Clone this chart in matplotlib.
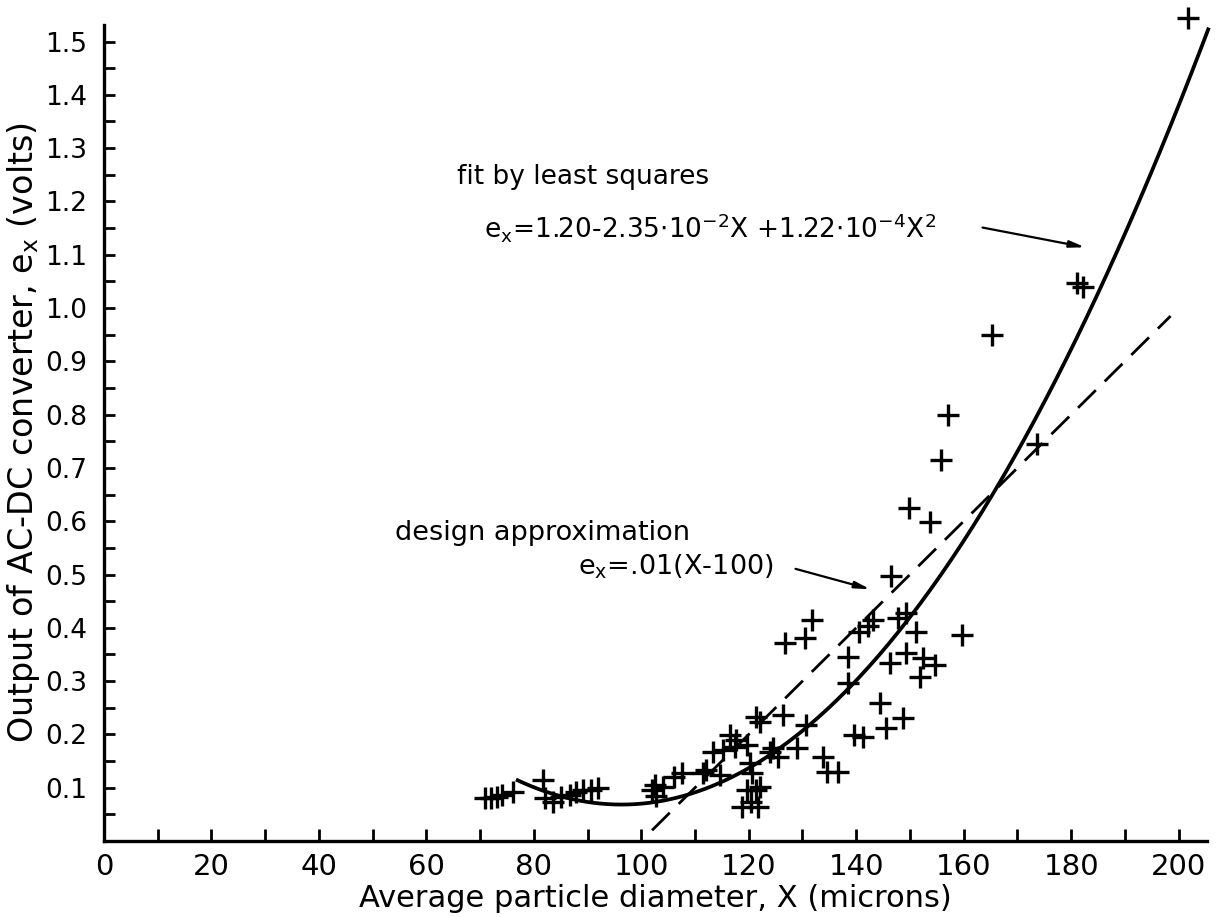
import numpy as np
import matplotlib.pyplot as plt
from matplotlib.ticker import MultipleLocator, FormatStrFormatter

# measured points: particle diameter X (microns), converter output e_x (volts)
diam = [70.9, 72.1, 73.1, 74.0, 76.1, 81.7, 82.0, 83.5, 85.1, 86.7, 87.9, 89.1, 90.7, 92.0,
        101.9, 102.5, 102.8, 104.0, 106.0, 107.5, 111.4, 112.1, 114.6, 113.3, 115.2, 116.5,
        117.4, 117.7, 119.6, 120.2, 120.6, 121.4, 119.6, 121.4, 122.0, 120.5, 118.7, 121.7,
        122.0, 123.9, 124.5, 125.4, 126.4, 128.9, 130.7, 126.7, 130.5, 131.7, 133.8, 134.5,
        136.6, 138.4, 138.4, 139.5, 141.2, 140.6, 142.1, 143.1, 144.4, 145.6, 146.2, 147.7,
        149.3, 148.7, 149.2, 151.2, 151.8, 152.4, 154.6, 159.6, 146.5, 149.8, 153.8, 155.7,
        157.0, 165.2, 173.6, 181.0, 182.2, 201.7]
output = [0.080, 0.080, 0.083, 0.086, 0.092, 0.114, 0.080, 0.074, 0.083, 0.086, 0.092, 0.096, 0.096, 0.099,
          0.096, 0.105, 0.085, 0.102, 0.120, 0.127, 0.128, 0.133, 0.124, 0.167, 0.171, 0.199,
          0.176, 0.190, 0.180, 0.146, 0.128, 0.233, 0.096, 0.096, 0.101, 0.073, 0.064, 0.064,
          0.223, 0.167, 0.174, 0.158, 0.236, 0.174, 0.218, 0.371, 0.380, 0.415, 0.158, 0.130,
          0.130, 0.345, 0.296, 0.199, 0.196, 0.393, 0.403, 0.415, 0.259, 0.212, 0.334, 0.418,
          0.427, 0.230, 0.353, 0.393, 0.308, 0.343, 0.330, 0.386, 0.498, 0.625, 0.598, 0.714,
          0.800, 0.949, 0.745, 1.047, 1.040, 1.544]

# least squares fit e = a + b X + c X^2 (coefficients printed on the chart)
fit_coef = [1.20, -2.35e-2, 1.22e-4]
fit_range = [77, 205.5]
# design approximation e = .01 (X - 100)
design_slope = 0.01
design_x0 = 100
design_range = [102, 198.5]

plt.rcParams['font.family'] = 'DejaVu Sans'
fig = plt.figure(figsize=(12.2, 9.17), dpi=100)
ax = fig.add_axes([0.0852, 0.0829, 0.9038, 0.8898])

ax.plot(diam, output, linestyle='none', marker='+', markersize=16, markeredgewidth=2.4,
        color='k', clip_on=False)

xf = np.linspace(fit_range[0], fit_range[1], 200)
yf = fit_coef[0] + fit_coef[1] * xf + fit_coef[2] * xf ** 2
ax.plot(xf, yf, color='k', lw=2.7, clip_on=False)

xd = np.array(design_range)
ax.plot(xd, design_slope * (xd - design_x0), color='k', lw=2.0, dashes=(9, 4.5))

ax.set_xlim(0, 205.2)
ax.set_ylim(0, 1.531)
for s in ['top', 'right']:
    ax.spines[s].set_visible(False)
for s in ['left', 'bottom']:
    ax.spines[s].set_linewidth(2.4)

ax.xaxis.set_major_locator(MultipleLocator(20))
ax.xaxis.set_minor_locator(MultipleLocator(10))
ax.yaxis.set_major_locator(MultipleLocator(0.1))
ax.yaxis.set_minor_locator(MultipleLocator(0.05))
ax.yaxis.set_major_formatter(FormatStrFormatter('%.1f'))
ax.set_yticks(np.arange(0.1, 1.51, 0.1))
ax.tick_params(which='both', direction='in', width=2, length=8)
ax.tick_params(axis='x', which='both', length=9, pad=9, labelsize=21)
ax.tick_params(axis='y', which='both', pad=12, labelsize=19)

ax.set_xlabel('Average particle diameter, X (microns)', fontsize=22, labelpad=2)
ax.set_ylabel('Output of AC-DC converter, $\\mathregular{e_x}$ (volts)', fontsize=24, labelpad=2)

ax.text(65.7, 1.246, 'fit by least squares', fontsize=19, va='center', ha='left')
ax.text(70.7, 1.152,
        '$\\mathregular{e_x}$=1.20-2.35$\\cdot$10$^{\\mathregular{-2}}$X +1.22$\\cdot$10$^{\\mathregular{-4}}$X$^{\\mathregular{2}}$',
        fontsize=19, va='center', ha='left')
ax.annotate('', xy=(183.1, 1.113), xytext=(163.0, 1.152),
            arrowprops=dict(arrowstyle='-|>,head_length=0.9,head_width=0.2', color='k', lw=1.6))

ax.text(54.2, 0.578, 'design approximation', fontsize=19.5, va='center', ha='left')
ax.text(88.2, 0.514, '$\\mathregular{e_x}$=.01(X-100)', fontsize=19.5, va='center', ha='left')
ax.annotate('', xy=(143.1, 0.471), xytext=(128.2, 0.512),
            arrowprops=dict(arrowstyle='-|>,head_length=0.9,head_width=0.2', color='k', lw=1.6))

fig.savefig('out.png', dpi=100)
